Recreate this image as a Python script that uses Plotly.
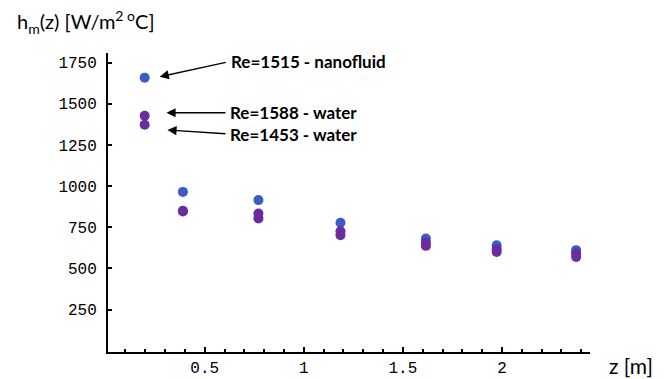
import plotly.graph_objects as go

# ---- data ----
z_m = [0.197, 0.39, 0.771, 1.185, 1.616, 1.973, 2.374]
h_nanofluid_1515 = [1659, 965, 915, 777, 682, 641, 611]
h_water_1588 = [1428, 850, 834, 726, 658, 617, 591]
h_water_1453 = [1373, 846, 804, 702, 637, 600, 570]

y_tick_vals = [250, 500, 750, 1000, 1250, 1500, 1750]
x_tick_vals = [0.5, 1, 1.5, 2]
x_tick_text = ["0.5", "1", "1.5", "2"]

labels = ["Re=1515 - nanofluid", "Re=1588 - water", "Re=1453 - water"]

BLUE = "#3b5cc2"
PURPLE = "#6a2c9e"
MONO = "Liberation Mono, DejaVu Sans Mono, monospace"
SANS = "Lato, Open Sans, sans-serif"

fig = go.Figure()
fig.add_trace(go.Scatter(x=z_m, y=h_nanofluid_1515, mode="markers",
                         marker=dict(color=BLUE, size=10), name=labels[0]))
fig.add_trace(go.Scatter(x=z_m, y=h_water_1588, mode="markers",
                         marker=dict(color=PURPLE, size=10), name=labels[1]))
fig.add_trace(go.Scatter(x=z_m, y=h_water_1453, mode="markers",
                         marker=dict(color=PURPLE, size=10), name=labels[2]))

# labelled arrows: head near the first point of each series, text box to the right
arrow_specs = [
    (z_m[0] + 0.076, h_nanofluid_1515[0] + 6, 69, -15),
    (z_m[0] + 0.11, h_water_1588[0] + 18, 62, 0),
    (z_m[0] + 0.115, h_water_1453[0] - 32, 61, 4),
]
for lab, (hx, hy, ax, ay) in zip(labels, arrow_specs):
    fig.add_annotation(x=hx, y=hy, ax=ax, ay=ay, text="<b>" + lab + "</b>",
                       showarrow=True, xanchor="left", yanchor="middle",
                       arrowhead=2, arrowsize=1.3, arrowwidth=1.4,
                       arrowcolor="black", startstandoff=3,
                       xref="x", yref="y",
                       font=dict(family=SANS, size=17, color="black"))

# axis titles
fig.add_annotation(x=-0.193, y=1.104, xref="paper", yref="paper",
                   text="h<sub>m</sub>(z) [W/m<sup>2 o</sup>C]", showarrow=False,
                   xanchor="left", yanchor="middle",
                   font=dict(family=SANS, size=20, color="black"))
fig.add_annotation(x=1.035, y=-0.045, xref="paper", yref="paper",
                   text="z [m]", showarrow=False, xanchor="left", yanchor="middle",
                   font=dict(family=SANS, size=21, color="black"))

fig.update_xaxes(range=[0.012, 2.444], showgrid=False, zeroline=False,
                 automargin=False,
                 showline=True, linecolor="black", linewidth=2,
                 tickmode="array", tickvals=x_tick_vals, ticktext=x_tick_text,
                 ticks="inside", ticklen=5, tickwidth=1.5, tickcolor="black",
                 minor=dict(dtick=0.1, tick0=0, ticks="inside", ticklen=3,
                            tickwidth=1.5, tickcolor="black", showgrid=False),
                 tickfont=dict(family=MONO, size=16, color="black"),
                 ticklabelstandoff=0)
fig.update_yaxes(range=[-8, 1809], showgrid=False, zeroline=False,
                 automargin=False,
                 showline=True, linecolor="black", linewidth=2,
                 tickmode="array", tickvals=y_tick_vals,
                 ticks="inside", ticklen=4, tickwidth=1.5, tickcolor="black",
                 tickfont=dict(family=MONO, size=16, color="black"),
                 ticklabelstandoff=6)

fig.update_layout(width=668, height=379, showlegend=False,
                  margin=dict(l=108, r=78, t=53, b=27),
                  plot_bgcolor="white", paper_bgcolor="white")

fig.write_html("out.html")
